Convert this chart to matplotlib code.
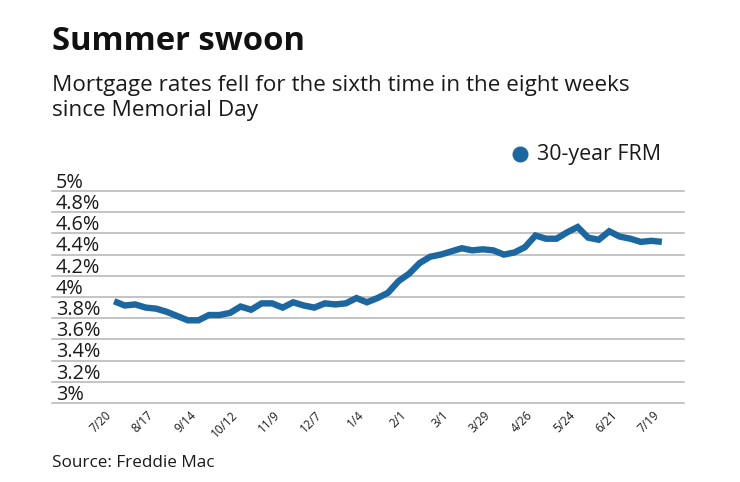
import matplotlib
matplotlib.use('Agg')
import matplotlib.pyplot as plt
import matplotlib.transforms as mtransforms

# Freddie Mac weekly 30-year FRM, 7/20/2017 - 7/19/2018
weeks = ['7/20', '7/27', '8/3', '8/10', '8/17', '8/24', '8/31', '9/7', '9/14',
         '9/21', '9/28', '10/5', '10/12', '10/19', '10/26', '11/2', '11/9',
         '11/16', '11/22', '11/30', '12/7', '12/14', '12/21', '12/28', '1/4',
         '1/11', '1/18', '1/25', '2/1', '2/8', '2/15', '2/22', '3/1', '3/8',
         '3/15', '3/22', '3/29', '4/5', '4/12', '4/19', '4/26', '5/3', '5/10',
         '5/17', '5/24', '5/31', '6/7', '6/14', '6/21', '6/28', '7/5', '7/12',
         '7/19']
frm30 = [3.96, 3.92, 3.93, 3.90, 3.89, 3.86, 3.82, 3.78, 3.78, 3.83, 3.83,
         3.85, 3.91, 3.88, 3.94, 3.94, 3.90, 3.95, 3.92, 3.90, 3.94, 3.93,
         3.94, 3.99, 3.95, 3.99, 4.04, 4.15, 4.22, 4.32, 4.38, 4.40, 4.43,
         4.46, 4.44, 4.45, 4.44, 4.40, 4.42, 4.47, 4.58, 4.55, 4.55, 4.61,
         4.66, 4.56, 4.54, 4.62, 4.57, 4.55, 4.52, 4.53, 4.52]
y_ticks = [3.0, 3.2, 3.4, 3.6, 3.8, 4.0, 4.2, 4.4, 4.6, 4.8, 5.0]
y_labels = ['3%', '3.2%', '3.4%', '3.6%', '3.8%', '4%', '4.2%', '4.4%',
            '4.6%', '4.8%', '5%']

plt.rcParams['font.family'] = ['Open Sans', 'DejaVu Sans']
line_color = '#1d67a0'
text_color = '#1a1a1a'

W, H = 740, 482
fig = plt.figure(figsize=(W / 100, H / 100), dpi=100)

# axes in pixel coords: left 52, right 684, top 191, bottom 403
left, right, top, bottom = 52, 684, 191, 403
ax = fig.add_axes([left / W, 1 - bottom / H, (right - left) / W, (bottom - top) / H])

x = list(range(len(frm30)))
ax.plot(x, frm30, color=line_color, linewidth=4.6, solid_joinstyle='miter',
        solid_capstyle='butt', zorder=3, clip_on=False)

ax.set_xlim(-5.9, 54.1)
ax.set_ylim(3, 5)
for s in ax.spines.values():
    s.set_visible(False)

# gridlines and labels sitting on them
offs = mtransforms.offset_copy(ax.get_yaxis_transform(), fig=fig, x=0, y=2.3, units='points')
for v, lab in zip(y_ticks, y_labels):
    ax.axhline(v, color='#b4b4b4', linewidth=1.1, zorder=1, clip_on=False)
    ax.text(0.006, v, lab, transform=offs, ha='left', va='baseline',
            fontsize=14.3, color=text_color)
ax.set_yticks([])

tick_idx = list(range(0, len(weeks), 4))
ax.set_xticks(tick_idx)
ax.set_xticklabels([weeks[i] for i in tick_idx], rotation=45, ha='right',
                   fontsize=8.5, color=text_color)
ax.tick_params(axis='x', length=0, pad=4)

# titles
fig.text(52 / W, 1 - 50 / H, 'Summer swoon', fontsize=23.6, fontweight='bold',
         color='#111111', ha='left', va='baseline')
fig.text(52 / W, 1 - 91 / H, 'Mortgage rates fell for the sixth time in the eight weeks',
         fontsize=16.2, color=text_color, ha='left', va='baseline')
fig.text(52 / W, 1 - 116 / H, 'since Memorial Day',
         fontsize=16.2, color=text_color, ha='left', va='baseline')

# legend
fig.lines.append(plt.Line2D([520 / W], [1 - 154 / H], marker='o', markersize=10.5,
                            color=line_color, linestyle='none', transform=fig.transFigure))
fig.text(537 / W, 1 - 160 / H, '30-year FRM', fontsize=15.4, color=text_color,
         ha='left', va='baseline')

fig.text(52 / W, 1 - 467 / H, 'Source: Freddie Mac', fontsize=12.3,
         color=text_color, ha='left', va='baseline')

fig.savefig('out.png', dpi=100)
